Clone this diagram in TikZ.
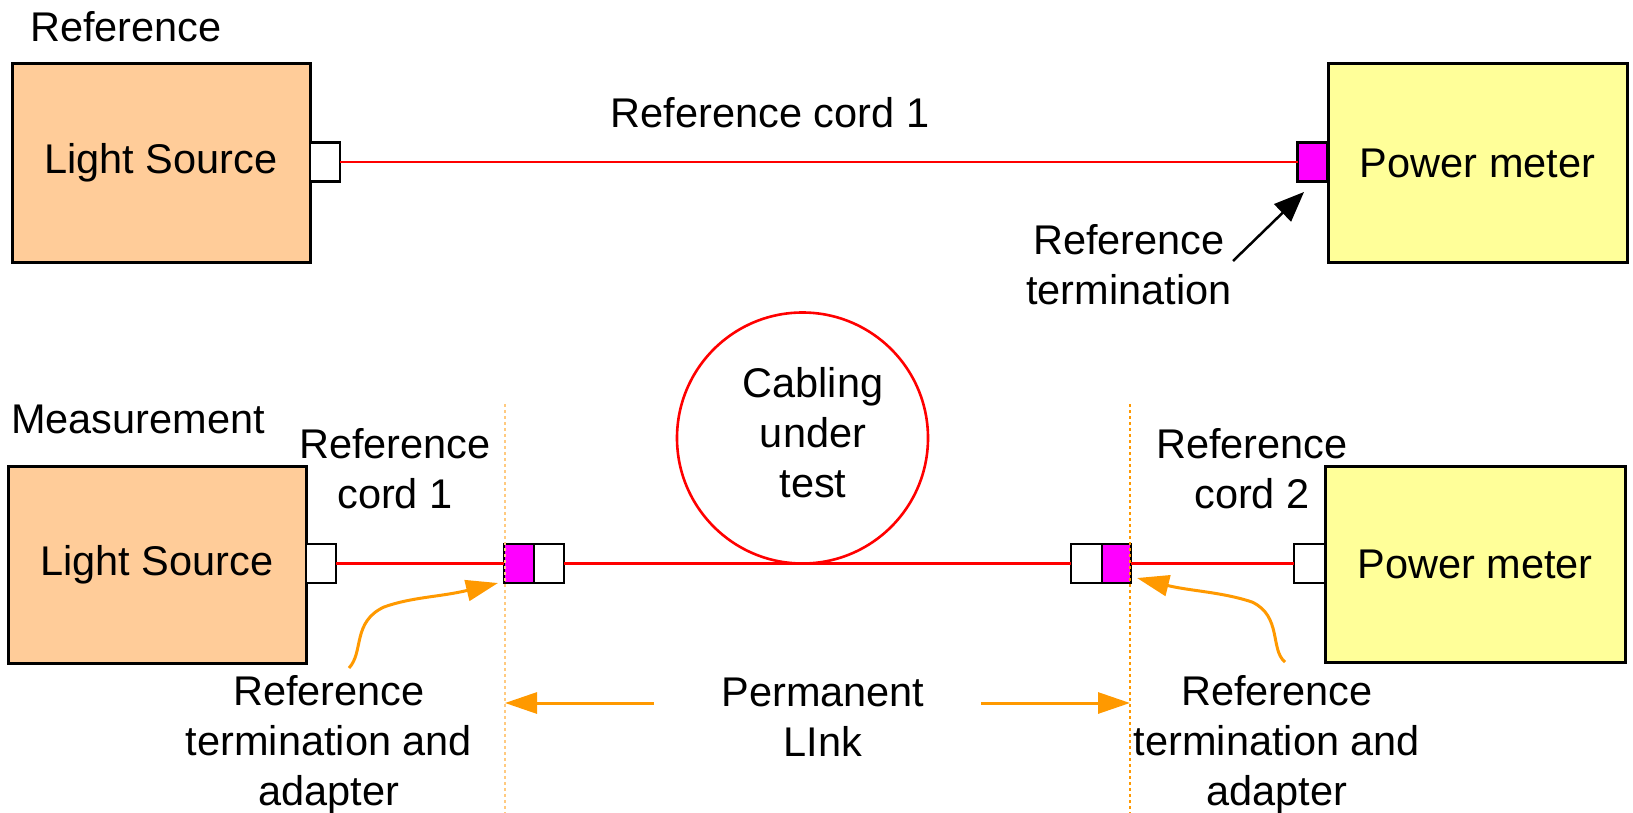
\documentclass[tikz,border=0pt]{standalone}
\usepackage{fontspec}
\setmainfont{Liberation Sans}
\usetikzlibrary{arrows.meta}
\definecolor{srcfill}{HTML}{FFCC99}
\definecolor{pmfill}{HTML}{FFFF99}
\definecolor{cordred}{HTML}{FF0000}
\definecolor{termmag}{HTML}{FF00FF}
\definecolor{linkorange}{HTML}{FF9900}
\definecolor{paleorange}{HTML}{FFCA80}
\tikzset{
  unitbox/.style={draw=black, line width=3pt, inner sep=0pt, outer sep=0pt,
    minimum width=298pt, minimum height=198pt, align=center},
  srcbox/.style={unitbox, fill=srcfill},
  meterbox/.style={unitbox, fill=pmfill},
  plug/.style={draw=black, line width=2.6pt, fill=white, inner sep=0pt, outer sep=0pt,
    minimum width=30pt, minimum height=39pt},
  termplug/.style={plug, fill=termmag},
  cord/.style={draw=cordred, line width=2.4pt},
  % base anchor of a multi-line label sits on its last line
  label/.style={align=center, anchor=base, inner sep=0pt},
  linkarrow/.style={draw=linkorange, line width=3pt,
    -{Triangle[length=32pt, width=21pt]}},
  boundary/.style={line width=1.2pt, dash pattern=on 3pt off 3pt},
}
\begin{document}
\begin{tikzpicture}[x=1pt, y=-1pt, font=\fontsize{41.5}{50}\selectfont]
\useasboundingbox (0,0) rectangle (1633,813);

% ---------- reference set-up ----------
\node[label] (reftitle) at (126,42) {Reference};
\node[srcbox] (ls1) at (161,163) {Light Source};
\node[meterbox, minimum width=299pt] (pm1) at (1477.5,163) {Power meter};
\node[plug] (pc1) at (325,162) {};
\node[termplug] (mt1) at (1312.5,162) {};
\draw[cord] (pc1.east) -- (mt1.west);
\node[label] (cord1top) at (770,128) {Reference cord 1};
\node[label] (reftermtop) at (1129,304) {Reference\\termination};
\coordinate (termtail) at (1233,261);
\coordinate (termtip) at (1304,192);
\draw[line width=2.5pt, -{Triangle[length=30pt, width=24pt]}] (termtail) -- (termtip);

% ---------- measurement set-up ----------
\node[label] (meastitle) at (138,433) {Measurement};
\node[srcbox, minimum height=197pt] (ls2) at (157,564.5) {Light Source};
\node[meterbox, minimum width=300pt, minimum height=196pt] (pm2) at (1475,564) {Power meter};
\node[plug] (pc2) at (321,563.5) {};
\node[termplug] (ma1) at (519,563.5) {};
\node[plug] (wa1) at (549,563.5) {};
\node[plug, minimum width=31pt] (wb1) at (1086.5,563.5) {};
\node[termplug, minimum width=29pt] (mb1) at (1116.5,563.5) {};
\node[plug, minimum width=31pt] (pc3) at (1309.5,563.5) {};
\draw[cord] (pc2.east) -- (ma1.west);
\draw[cord] (wa1.east) -- (wb1.west);
\draw[cord] (mb1.east) -- (pc3.west);

% cabling loop
\node[circle, draw=cordred, line width=2.6pt, minimum size=251pt, inner sep=0pt]
  (loop) at (802.5,438) {};
\node[label] (cut) at (813,497) {Cabling\\under\\test};

\node[label] (cord1) at (395,508) {Reference\\cord 1};
\node[label] (cord2) at (1252,508) {Reference\\cord 2};

% permanent link boundaries
\coordinate (bLtop) at (505,404);
\coordinate (bLbot) at (505,813);
\coordinate (bRtop) at (1130,404);
\coordinate (bRbot) at (1130,813);
\draw[boundary, draw=paleorange, line width=2.4pt] (bLtop) -- (bLbot);
\draw[boundary, draw=linkorange] (bRtop) -- (bRbot);

\node[label] (plink) at (823,756) {Permanent\\LInk};
\coordinate (plLtail) at (654,703);
\coordinate (plRtail) at (981,703);
\draw[linkarrow] (plLtail) -- (bLtop |- plLtail);
\draw[linkarrow] (plRtail) -- (bRtop |- plRtail);

% termination and adapter labels
\node[label] (termL) at (329,805) {Reference\\termination and\\adapter};
\node[label] (termR) at (1277,805) {Reference\\termination and\\adapter};
\coordinate (curveLstart) at (349,668);
\coordinate (curveLtip) at (498,583);
\coordinate (curveRstart) at (1285,662);
\coordinate (curveRtip) at (1137,578);
\draw[linkarrow] (curveLstart) .. controls (364,652) and (352,622) .. (384,607)
  .. controls (412,597) and (440,597) .. (curveLtip);
\draw[linkarrow] (curveRstart) .. controls (1270,650) and (1282,616) .. (1252,602)
  .. controls (1222,592) and (1190,591) .. (curveRtip);
\end{tikzpicture}
\end{document}
